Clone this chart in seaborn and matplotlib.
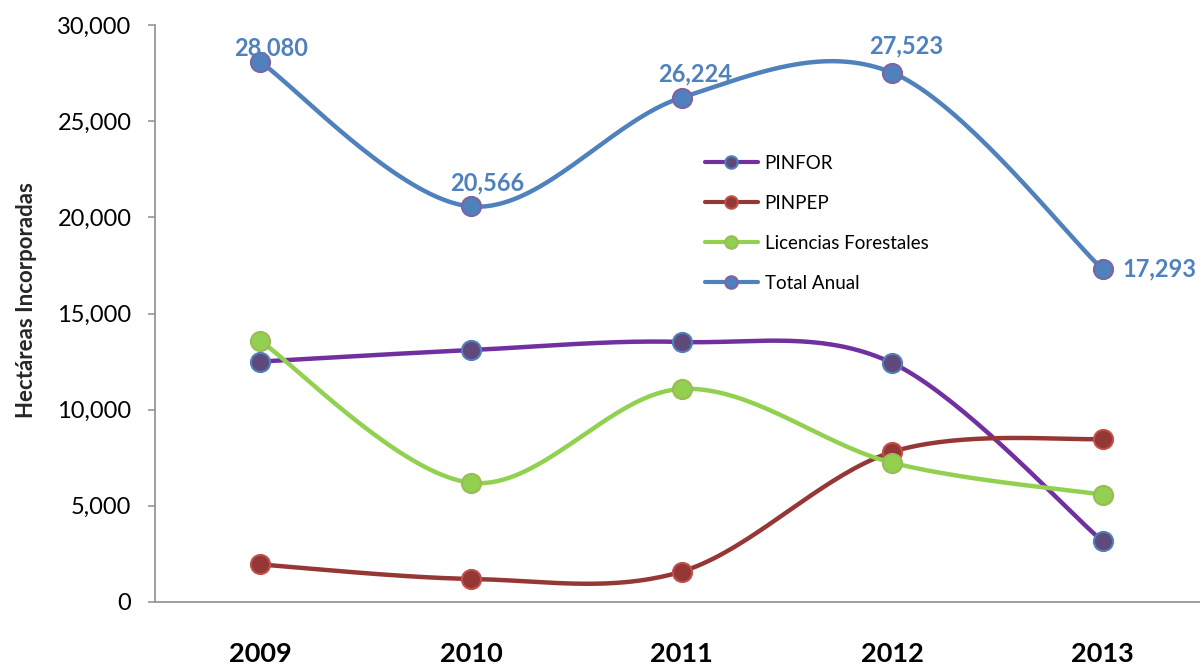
import numpy as np
import pandas as pd
import matplotlib
matplotlib.use("Agg")
import matplotlib.pyplot as plt
import seaborn as sns
from matplotlib.lines import Line2D
from matplotlib.ticker import FuncFormatter

sns.set_theme(style="white")
plt.rcParams['font.family'] = ['Lato', 'DejaVu Sans']
plt.rcParams['text.color'] = 'black'
plt.rcParams['xtick.color'] = 'black'
plt.rcParams['ytick.color'] = 'black'

# --- data ---
years = ['2009', '2010', '2011', '2012', '2013']
pinfor = [12500, 13100, 13520, 12430, 3150]
pinpep = [1950, 1200, 1580, 7800, 8480]
licencias = [13570, 6200, 11080, 7240, 5580]
total_anual = [28080, 20566, 26224, 27523, 17293]

series_names = ['PINFOR', 'PINPEP', 'Licencias Forestales', 'Total Anual']
series_values = [pinfor, pinpep, licencias, total_anual]
line_colors = ['#7030A0', '#953735', '#92D050', '#4F81BD']
face_colors = ['#604A7B', '#953735', '#92D050', '#4F81BD']
edge_colors = ['#4F81BD', '#C0504D', '#9BBB59', '#8064A2']

df = pd.DataFrame({
    'year': np.tile(years, len(series_names)),
    'pos': np.tile(np.arange(len(years)), len(series_names)),
    'serie': np.repeat(series_names, len(years)),
    'value': np.concatenate(series_values),
})


def smooth(x, y, n=40):
    # Excel-style smoothed line (Bezier with Catmull-Rom control points)
    pts = np.column_stack([np.asarray(x, float), np.asarray(y, float)])
    ext = np.vstack([pts[0], pts, pts[-1]])
    out = []
    t = np.linspace(0, 1, n)[:, None]
    for i in range(len(pts) - 1):
        p0, p1, p2, p3 = ext[i], ext[i + 1], ext[i + 2], ext[i + 3]
        c1 = p1 + (p2 - p0) / 6
        c2 = p2 - (p3 - p1) / 6
        seg = ((1 - t) ** 3) * p1 + 3 * ((1 - t) ** 2) * t * c1 + 3 * (1 - t) * t ** 2 * c2 + t ** 3 * p2
        out.append(seg)
    out = np.vstack(out)
    return out[:, 0], out[:, 1]


fig = plt.figure(figsize=(12, 6.67), dpi=100)
ax = fig.add_axes([155 / 1200, 65 / 667, 1053 / 1200, 577 / 667])

for name, lc, fc, ec in zip(series_names, line_colors, face_colors, edge_colors):
    sub = df[df['serie'] == name]
    sx, sy = smooth(sub['pos'], sub['value'])
    ax.plot(sx, sy, color=lc, lw=3.2, solid_capstyle='round', zorder=2)
    sns.scatterplot(data=sub, x='pos', y='value', ax=ax, s=190, color=fc,
                    edgecolor=ec, linewidth=1.5, zorder=3, legend=False)

# data labels for the annual total
label_offsets = [(8, 10), (12, 17), (10, 17), (10, 19), (14, 0)]
for i, v in enumerate(total_anual):
    dx, dy = label_offsets[i]
    last = i == len(total_anual) - 1
    ax.annotate(f"{v:,}", (i, v), xytext=(dx, dy), textcoords='offset points',
                ha='left' if last else 'center', va='center', fontsize=17,
                fontweight='bold', color='#4F81BD', annotation_clip=False, zorder=5)

ax.set_xlim(-0.5, len(years) - 0.5)
ax.set_ylim(0, 30000)
ax.set_yticks(np.arange(0, 30001, 5000))
ax.yaxis.set_major_formatter(FuncFormatter(lambda v, p: f"{int(v):,}"))
ax.set_xticks(range(len(years)))
ax.set_xticklabels(years, fontsize=19.5, fontweight='bold')
ax.tick_params(axis='x', length=0, pad=29)
ax.tick_params(axis='y', length=5, width=1.2, color='#969696', labelsize=17, pad=12, left=True)
ax.set_xlabel('')
ax.set_ylabel('Hectáreas Incorporadas', fontsize=16, fontweight='bold')
ax.yaxis.set_label_coords(-0.112, 0.523)

for side in ['top', 'right']:
    ax.spines[side].set_visible(False)
for side in ['left', 'bottom']:
    ax.spines[side].set_color('#969696')
    ax.spines[side].set_linewidth(1.3)

handles = [Line2D([0], [0], color=lc, lw=3, marker='o', markersize=9,
                  markerfacecolor=fc, markeredgecolor=ec, markeredgewidth=1.5)
           for lc, fc, ec in zip(line_colors, face_colors, edge_colors)]
fig.legend(handles, series_names, loc='upper left', bbox_to_anchor=(705 / 1200, 1 - 155 / 667),
           frameon=False, fontsize=13.5, handlelength=2.8, handletextpad=0.38,
           labelspacing=1.22, borderaxespad=0, borderpad=0)

fig.savefig('out.png', dpi=100)
